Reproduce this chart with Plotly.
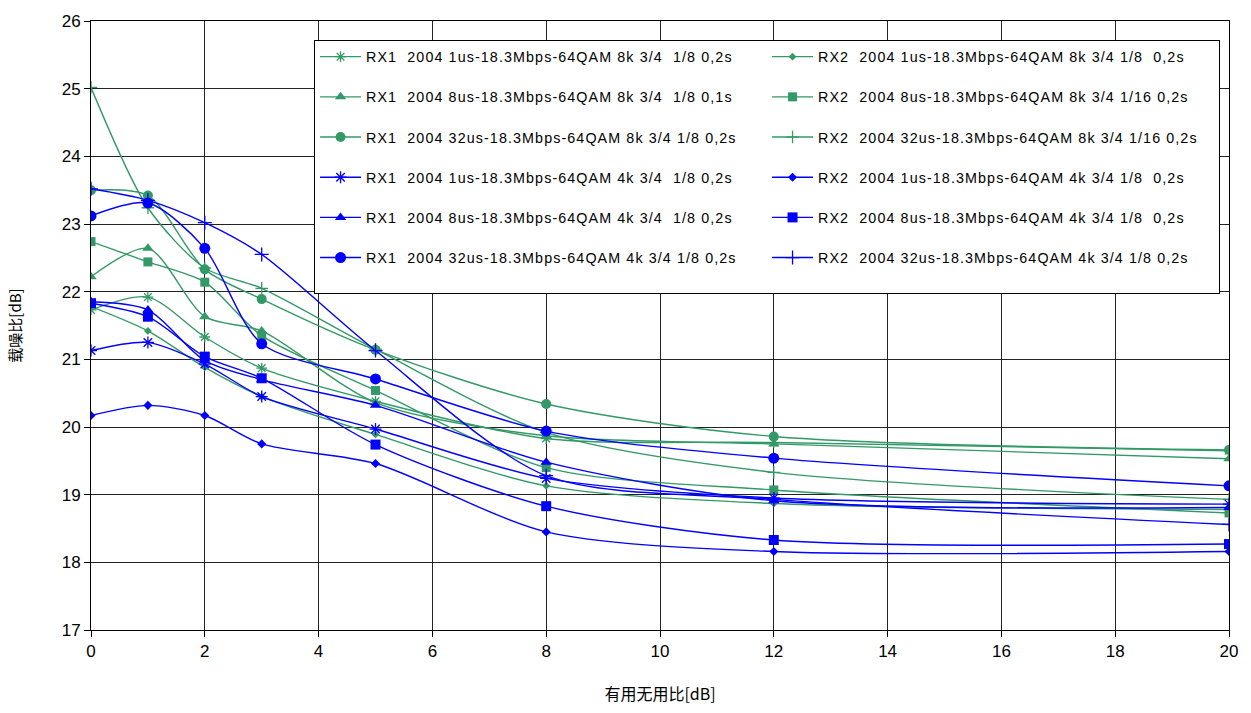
import plotly.graph_objects as go

# Wanted/unwanted ratio (dB) at which the C/N threshold was measured
ratio_db = [0, 1, 2, 3, 5, 8, 12, 20]

# Measured C/N threshold (dB), one list per receiver / guard-interval configuration
rx1_1us_8k = [21.73, 21.92, 21.33, 20.87, 20.38, 19.83, 19.77, 19.65]
rx2_1us_8k = [21.78, 21.42, 20.88, 20.45, 19.89, 19.13, 18.87, 18.78]
rx1_8us_8k = [22.22, 22.64, 21.63, 21.42, 20.36, 19.87, 19.75, 19.53]
rx2_8us_8k = [22.74, 22.44, 22.14, 21.35, 20.54, 19.40, 19.07, 18.73]
rx1_32us_8k = [23.50, 23.42, 22.33, 21.89, 21.14, 20.34, 19.86, 19.66]
rx2_32us_8k = [25.02, 23.24, 22.35, 22.05, 21.15, 19.92, 19.33, 18.93]
rx1_1us_4k = [21.13, 21.25, 20.93, 20.45, 19.97, 19.24, 18.95, 18.86]
rx2_1us_4k = [20.17, 20.32, 20.17, 19.75, 19.46, 18.45, 18.16, 18.16]
rx1_8us_4k = [21.85, 21.73, 20.98, 20.70, 20.32, 19.48, 18.91, 18.81]
rx2_8us_4k = [21.83, 21.63, 21.04, 20.72, 19.74, 18.83, 18.33, 18.27]
rx1_32us_4k = [23.12, 23.31, 22.64, 21.23, 20.71, 19.94, 19.54, 19.13]
rx2_32us_4k = [23.52, 23.35, 23.02, 22.55, 21.13, 19.28, 18.93, 18.56]

series_labels = [
    "RX1  2004 1us-18.3Mbps-64QAM 8k 3/4  1/8 0,2s",
    "RX2  2004 1us-18.3Mbps-64QAM 8k 3/4 1/8  0,2s",
    "RX1  2004 8us-18.3Mbps-64QAM 8k 3/4  1/8 0,1s",
    "RX2  2004 8us-18.3Mbps-64QAM 8k 3/4 1/16 0,2s",
    "RX1  2004 32us-18.3Mbps-64QAM 8k 3/4 1/8 0,2s",
    "RX2  2004 32us-18.3Mbps-64QAM 8k 3/4 1/16 0,2s",
    "RX1  2004 1us-18.3Mbps-64QAM 4k 3/4  1/8 0,2s",
    "RX2  2004 1us-18.3Mbps-64QAM 4k 3/4 1/8  0,2s",
    "RX1  2004 8us-18.3Mbps-64QAM 4k 3/4  1/8 0,2s",
    "RX2  2004 8us-18.3Mbps-64QAM 4k 3/4 1/8  0,2s",
    "RX1  2004 32us-18.3Mbps-64QAM 4k 3/4 1/8 0,2s",
    "RX2  2004 32us-18.3Mbps-64QAM 4k 3/4 1/8 0,2s",
]

series_values = [
    rx1_1us_8k, rx2_1us_8k, rx1_8us_8k, rx2_8us_8k, rx1_32us_8k, rx2_32us_8k,
    rx1_1us_4k, rx2_1us_4k, rx1_8us_4k, rx2_8us_4k, rx1_32us_4k, rx2_32us_4k,
]

GREEN = "#339966"
BLUE = "#0000FF"

# (colour, symbol, size, open-style line marker?)
styles = [
    (GREEN, "asterisk-open", 9, True),
    (GREEN, "diamond", 6, False),
    (GREEN, "triangle-up", 10, False),
    (GREEN, "square", 9, False),
    (GREEN, "circle", 10, False),
    (GREEN, "cross-thin-open", 9, True),
    (BLUE, "asterisk-open", 10, True),
    (BLUE, "diamond", 7, False),
    (BLUE, "triangle-up", 10, False),
    (BLUE, "square", 10, False),
    (BLUE, "circle", 11, False),
    (BLUE, "cross-thin-open", 10, True),
]

fig = go.Figure()
for label, values, (color, symbol, size, is_open) in zip(series_labels, series_values, styles):
    shown = label.replace("  ", " \u00a0")
    fig.add_trace(go.Scatter(
        x=ratio_db,
        y=values,
        mode="lines+markers",
        name=f'<span style="letter-spacing:1.1px">{shown}</span><br>\u00a0',
        line=dict(color=color, width=1.4, shape="spline", smoothing=0.8),
        marker=dict(symbol=symbol, size=size, color=color,
                    line=dict(color=color, width=1.3 if is_open else 0)),
    ))

axis_font = dict(family="Liberation Sans, Arial, sans-serif", size=17, color="#000")

fig.update_layout(
    width=1251,
    height=713,
    margin=dict(l=91, r=22, t=19, b=81),
    paper_bgcolor="white",
    plot_bgcolor="white",
    font=dict(family="Liberation Sans, Arial, sans-serif", color="#000"),
    xaxis=dict(
        range=[0, 20], dtick=2, tick0=0,
        showgrid=True, gridcolor="#222", gridwidth=1,
        showline=True, linecolor="#000", linewidth=1, mirror=True,
        ticks="outside", ticklen=6, tickcolor="#000",
        tickfont=axis_font, zeroline=False,
        title=dict(text="有用无用比[dB]", standoff=28,
                   font=dict(family="Noto Sans CJK SC, sans-serif", size=16, color="#000")),
    ),
    yaxis=dict(
        range=[17, 26], dtick=1, tick0=17,
        showgrid=True, gridcolor="#222", gridwidth=1,
        showline=True, linecolor="#000", linewidth=1, mirror=True,
        ticks="outside", ticklen=6, tickcolor="#000",
        tickfont=axis_font, zeroline=False,
        title=dict(text="载噪比[dB]", standoff=36,
                   font=dict(family="Noto Sans CJK SC, sans-serif", size=15, color="#000")),
    ),
    legend=dict(
        orientation="h",
        x=0.196, y=0.969, xanchor="left", yanchor="top",
        bgcolor="white", bordercolor="#000", borderwidth=1,
        font=dict(family="Liberation Sans, Arial, sans-serif", size=14.3, color="#000"),
        entrywidth=396, entrywidthmode="pixels",
        valign="top",
        itemwidth=41,
    ),
)

fig.write_html("out.html")
